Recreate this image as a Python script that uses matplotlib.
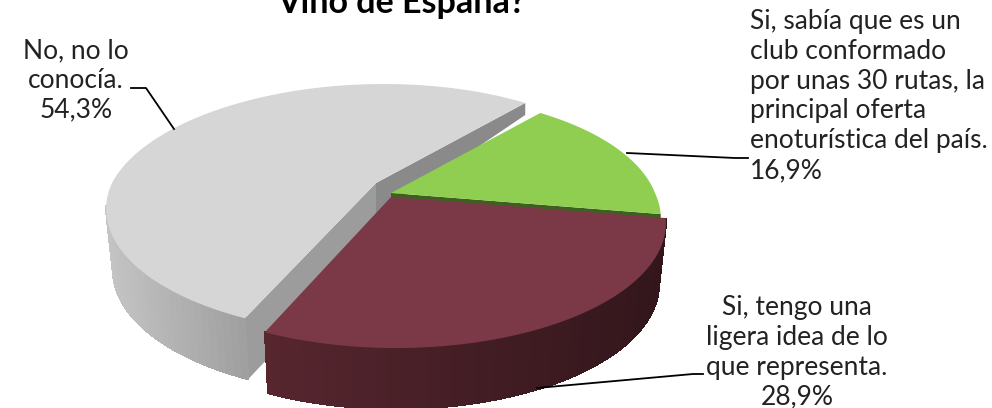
import numpy as np
import matplotlib
matplotlib.use('Agg')
import matplotlib.pyplot as plt
from matplotlib.patches import Polygon

# datos de la encuesta
labels = ['Si, sabía que es un\nclub conformado\npor unas 30 rutas, la\nprincipal oferta\nenoturística del país.\n16,9%',
          'Si, tengo una\nligera idea de lo\nque representa.\n28,9%',
          'No, no lo\nconocía.\n54,3%']
values = [16.9, 28.9, 54.3]
title = 'Vino de España?'

top_colors = ['#8fce50', '#7b3947', '#d6d6d6']
side_left = ['#3f5f22', '#57262f', '#c4c4c4']
side_right = ['#3f5f22', '#32161b', '#a0a0a0']
apex = [(391, 193), (391, 197), (376, 183)]
rim_shift = [0, 5, 0]

# camara de la torta 3D
START = 51.0
R = 264.0
RK = 119.6
P = 0.208
DEPTH = 61.0
SHRINK = 0.975
FAR_SKEW = 8.0


def rim(t, ap, dx):
    """Point on the top rim for angle t (radians)"""
    s = 1 / (1 + P * np.sin(t))
    skew = FAR_SKEW * np.maximum(np.sin(t), 0)
    return ap[0] + dx + skew + R * np.cos(t) * s, ap[1] - RK * np.sin(t) * s


def lower(x, y, ap):
    return ap[0] + (x - ap[0]) * SHRINK, y + DEPTH


fig = plt.figure(figsize=(9.92, 4.08), dpi=100)
ax = fig.add_axes([0, 0, 1, 1])
ax.set_xlim(0, 992)
ax.set_ylim(408, 0)
ax.axis('off')

total = sum(values)
edges = START - np.cumsum([0] + values) / total * 360
draw_order = [2, 0, 1]

for i in draw_order:
    ap = apex[i]
    dx = rim_shift[i]
    t = np.radians(np.linspace(edges[i], edges[i + 1], 120))
    xs, ys = rim(t, ap, dx)
    if i == 2:
        # caras internas del corte
        xf, yf = xs[0], ys[0]
        xl, yl = lower(xf, yf, ap)
        ax.add_patch(Polygon([ap, (xf, yf), (xl, yl), (ap[0], ap[1] + DEPTH)],
                             fc='#9c9c9c', ec='none'))
        xb, yb = xs[-1], ys[-1]
        ax.add_patch(Polygon([ap, (xb, yb), (xb, yb + 12), (ap[0], ap[1] + 33)],
                             fc='#8a8a8a', ec='none'))
    if i == 0:
        xe, ye = xs[-1], ys[-1]
        ax.add_patch(Polygon([ap, (xe, ye), (xe, ye + 10), (ap[0], ap[1] + 10)],
                             fc=side_left[i], ec='none'))
    if i != 0:
        # lateral con degradado
        c0 = np.array(matplotlib.colors.to_rgb(side_left[i]))
        c1 = np.array(matplotlib.colors.to_rgb(side_right[i]))
        xmin, xmax = xs.min(), xs.max()
        if i == 2:
            xmax = xs[0]
        for j in range(len(t) - 1):
            if i == 2 and np.sin(t[j]) > -0.21:
                continue
            f = np.clip((xs[j] - xmin) / (xmax - xmin), 0, 1)
            xl0, yl0 = lower(xs[j], ys[j], ap)
            xl1, yl1 = lower(xs[j + 1], ys[j + 1], ap)
            col = c0 + (c1 - c0) * f
            ax.add_patch(Polygon([(xs[j], ys[j]), (xs[j + 1], ys[j + 1]), (xl1, yl1), (xl0, yl0)],
                                 fc=col, ec=col, lw=0.6, antialiased=False))
    pts = [ap] + list(zip(xs, ys))
    ax.add_patch(Polygon(pts, fc=top_colors[i], ec='none'))

# lineas guia
ax.plot([627, 735, 748], [153, 158, 158], color='black', lw=1.3)
ax.plot([537, 693, 703], [388, 374, 374], color='black', lw=1.3)
ax.plot([131, 146, 174], [88, 88, 129], color='black', lw=1.3)

font = 'Lato'
STEP = 29.8
for lab, x, y0, ha in [(labels[0], 750, 29, 'left'), (labels[1], 797, 315, 'center'), (labels[2], 76, 58, 'center')]:
    for n, line in enumerate(lab.split('\n')):
        ax.text(x, y0 + n * STEP, line, ha=ha, va='baseline', fontsize=19, family=font, color='#222222')
ax.text(401, 13, title, ha='center', va='baseline', fontsize=24.5, family=font, fontweight='bold', color='black')

fig.savefig('out.png', dpi=100)
